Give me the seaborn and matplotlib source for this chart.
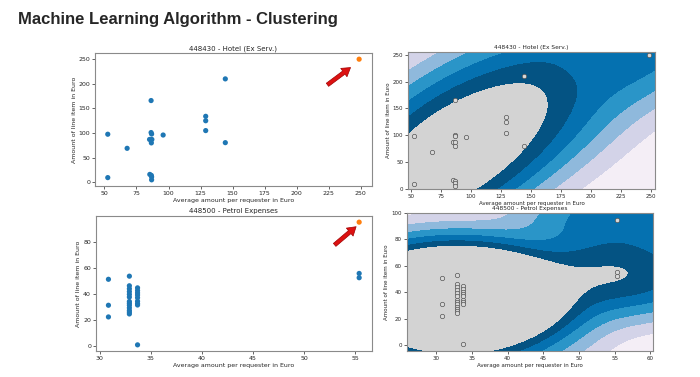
import numpy as np
import matplotlib.pyplot as plt
import seaborn as sns

# 448430 - Hotel (Ex Serv.)
hotel_x = [52.6, 52.6, 67.7, 86.4, 86.4, 86.8, 85.2, 87.0, 86.6, 95.8,
           85.4, 86.6, 86.8, 86.8, 129.0, 129.0, 129.0, 144.3, 144.3]
hotel_y = [97.6, 9.5, 69.0, 166.0, 101.0, 98.0, 87.0, 87.0, 80.0, 96.0,
           16.0, 14.0, 11.0, 5.0, 134.0, 125.0, 105.0, 210.0, 80.5]
hotel_out_x = [248.7]
hotel_out_y = [250.0]

# 448500 - Petrol Expenses
petrol_x = [30.85, 30.85, 30.85,
            32.9, 32.9, 32.9, 32.9, 32.9, 32.9, 32.9, 32.9, 32.9, 32.9, 32.9, 32.9, 32.9,
            33.7, 33.7, 33.7, 33.7, 33.7, 33.7, 33.7, 33.7, 33.7,
            55.4, 55.4]
petrol_y = [51.0, 31.0, 22.0,
            53.4, 46.0, 43.7, 41.5, 39.4, 37.3, 33.9, 32.5, 31.0, 29.0, 27.0, 25.7, 24.3,
            44.4, 42.3, 40.5, 38.9, 36.8, 34.1, 32.3, 31.2, 0.5,
            55.5, 52.2]
petrol_out_x = [55.4]
petrol_out_y = [95.0]

band_colors = ['#f4eef6', '#d3d3e8', '#8fb9dc', '#2a95c8', '#0571b0', '#045383']
inlier_color = '#d3d3d3'

sns.set_theme(style="ticks")
plt.rcParams.update({
    'font.family': ['DejaVu Sans'],
    'axes.edgecolor': '#8a8a8a',
    'axes.linewidth': 0.8,
    'xtick.major.size': 2,
    'ytick.major.size': 2,
    'xtick.major.width': 0.5,
    'ytick.major.width': 0.5,
    'xtick.major.pad': 1.5,
    'ytick.major.pad': 1.5,
    'xtick.labelsize': 4.5,
    'ytick.labelsize': 4.5,
    'axes.labelsize': 4.5,
    'axes.titlesize': 5,
    'axes.titlepad': 2,
    'axes.labelpad': 1.5,
})

fig = plt.figure(figsize=(7, 3.77), dpi=100)
fig.text(0.026, 0.947, 'Machine Learning Algorithm - Clustering',
         fontsize=12, fontweight='bold', family=['Liberation Sans', 'DejaVu Sans'],
         va='center', ha='left')

ax_h = fig.add_axes([0.136, 0.507, 0.395, 0.352])
ax_p = fig.add_axes([0.137, 0.069, 0.394, 0.358])
ax_hc = fig.add_axes([0.583, 0.499, 0.353, 0.363])
ax_pc = fig.add_axes([0.581, 0.069, 0.352, 0.366])

xlabel = 'Average amount per requester in Euro'
ylabel = 'Amount of line item in Euro'


def scatter_panel(ax, xs, ys, ox, oy, title, tail, head):
    sns.scatterplot(x=xs, y=ys, ax=ax, color='#1f77b4', s=14, edgecolor='none')
    sns.scatterplot(x=ox, y=oy, ax=ax, color='#ff7f0e', s=14, edgecolor='none')
    ax.annotate('', xy=head, xytext=tail,
                arrowprops=dict(facecolor='#dd1111', edgecolor='#a00000', lw=0.5,
                                width=2.8, headwidth=7.5, headlength=6))
    ax.set_title(title)
    ax.set_xlabel(xlabel)
    ax.set_ylabel(ylabel)


def score(gx, gy, px, py, inv, p):
    z = np.zeros_like(gx, dtype=float)
    for a, b in zip(px, py):
        dx, dy = gx - a, gy - b
        m2 = inv[0, 0] * dx ** 2 + 2 * inv[0, 1] * dx * dy + inv[1, 1] * dy ** 2
        z += np.exp(-m2 / 2)
    return z ** p


def contour_panel(ax, xs, ys, ox, oy, bw, q, p, title, diag=False):
    px = np.array(xs + ox)
    py = np.array(ys + oy)
    cov = np.cov(np.vstack([px, py])) * bw ** 2
    if diag:
        cov = np.diag(np.diag(cov))
    inv = np.linalg.inv(cov)
    gx, gy = np.meshgrid(np.linspace(px.min() - 5, px.max() + 5, 300),
                         np.linspace(py.min() - 5, py.max() + 5, 300))
    z = score(gx, gy, px, py, inv, p)
    zp = score(np.array(xs, float), np.array(ys, float), px, py, inv, p)
    thr = np.quantile(zp, q) * 0.99
    ax.contourf(gx, gy, z, levels=np.linspace(z.min(), thr, 7), colors=band_colors)
    ax.contourf(gx, gy, z, levels=[thr, z.max()], colors=[inlier_color])
    sns.scatterplot(x=px, y=py, ax=ax, color='#d9d9d9', s=10,
                    edgecolor='#555555', linewidth=0.5)
    ax.set_xlim(px.min() - 5, px.max() + 5)
    ax.set_ylim(py.min() - 5, py.max() + 5)
    ax.set_title(title, fontsize=4.2)
    ax.set_xlabel(xlabel, fontsize=4)
    ax.set_ylabel(ylabel, fontsize=4)
    ax.tick_params(labelsize=4)


scatter_panel(ax_h, hotel_x, hotel_y, hotel_out_x, hotel_out_y,
              '448430 - Hotel (Ex Serv.)', (224, 198), (242, 233))
scatter_panel(ax_p, petrol_x, petrol_y, petrol_out_x, petrol_out_y,
              '448500 - Petrol Expenses', (53.0, 77.5), (55.1, 91.5))

contour_panel(ax_hc, hotel_x, hotel_y, hotel_out_x, hotel_out_y, 0.9, 0.1, 0.25,
              '448430 - Hotel (Ex Serv.)')
contour_panel(ax_pc, petrol_x, petrol_y, petrol_out_x, petrol_out_y, 1.0, 0.0, 0.3,
              '448500 - Petrol Expenses', diag=True)

fig.savefig('out.png', dpi=100)
